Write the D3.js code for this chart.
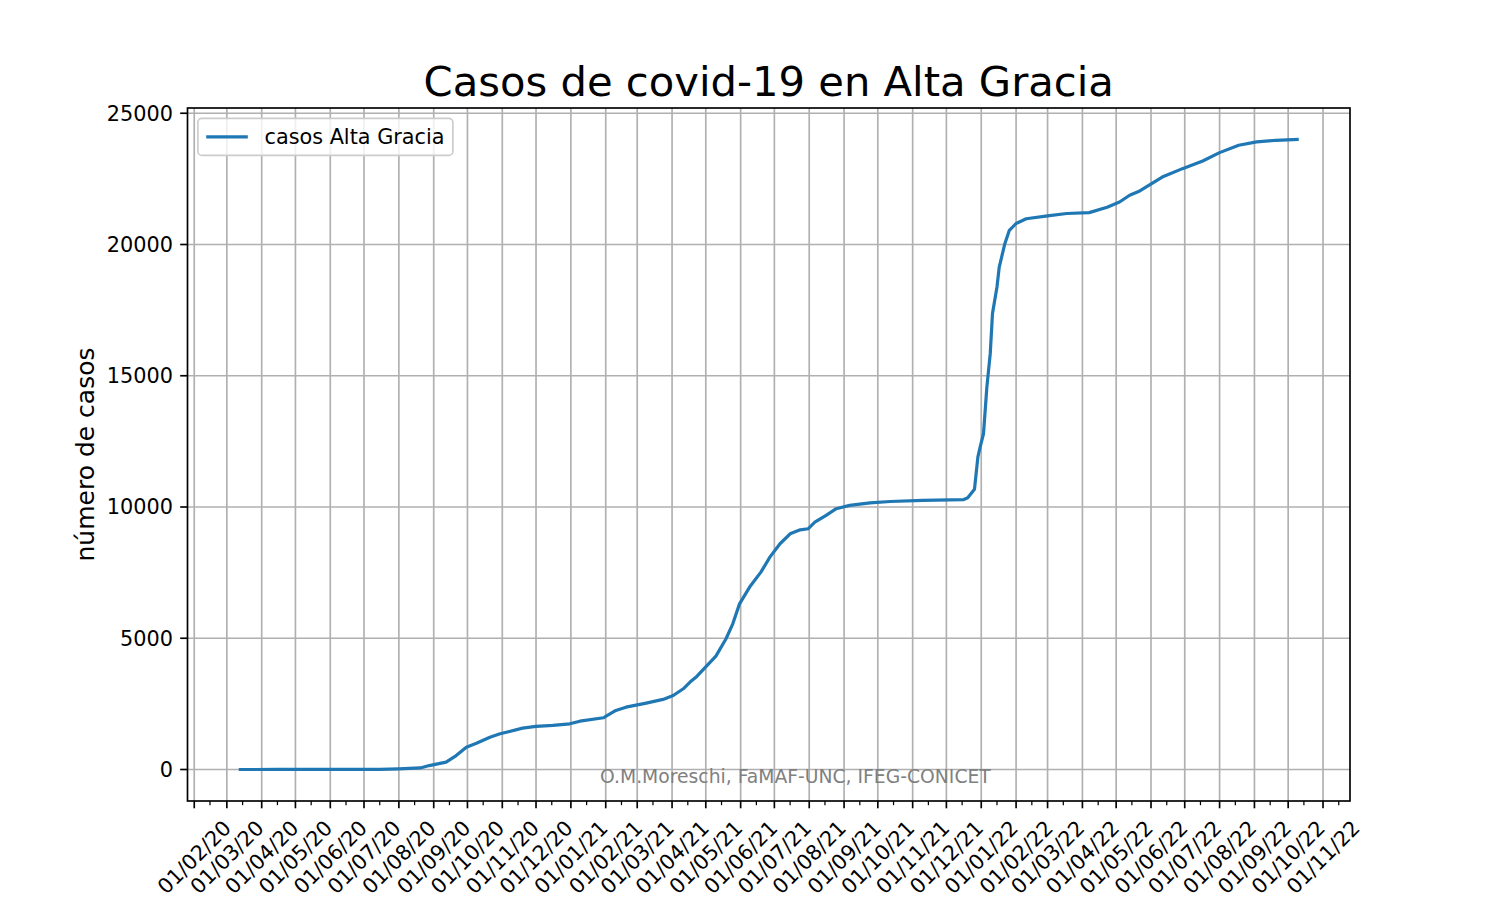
<!DOCTYPE html>
<html>
<head>
<meta charset="utf-8">
<script src="https://cdn.jsdelivr.net/npm/d3@7"></script>
<style>
  html, body { margin: 0; padding: 0; background: #ffffff; }
  svg { display: block; font-family: "DejaVu Sans", sans-serif; }
</style>
</head>
<body>
<svg id="chart" width="1500" height="900"></svg>
<script>
// ---- data ----
const dates = [
  "2020-03-13","2020-04-15","2020-06-01","2020-07-15","2020-08-01","2020-08-20","2020-08-28",
  "2020-09-12","2020-09-21","2020-09-30","2020-10-09","2020-10-21","2020-10-30","2020-11-19",
  "2020-12-01","2020-12-16","2020-12-31","2021-01-09","2021-01-30","2021-02-01","2021-02-10",
  "2021-02-19","2021-03-09","2021-03-24","2021-04-02","2021-04-11","2021-04-17","2021-04-23",
  "2021-05-02","2021-05-10","2021-05-19","2021-05-25","2021-05-31","2021-06-09","2021-06-19",
  "2021-06-27","2021-07-06","2021-07-15","2021-07-24","2021-07-31","2021-08-06","2021-08-16",
  "2021-08-25","2021-09-06","2021-09-24","2021-10-12","2021-11-10","2021-12-16","2021-12-20",
  "2021-12-26","2021-12-29","2021-12-31","2022-01-03","2022-01-06","2022-01-09","2022-01-11",
  "2022-01-15","2022-01-17","2022-01-22","2022-01-26","2022-02-01","2022-02-10","2022-03-01",
  "2022-03-18","2022-04-07","2022-04-23","2022-05-04","2022-05-13","2022-05-22","2022-06-11",
  "2022-06-29","2022-07-17","2022-08-01","2022-08-18","2022-09-03","2022-09-20","2022-10-09"
];
const casos = [
  0, 2, 3, 8, 25, 60, 150,
  280, 530, 850, 1000, 1230, 1360, 1575,
  1640, 1680, 1740, 1840, 1970, 2020, 2250,
  2375, 2530, 2670, 2820, 3075, 3330, 3545,
  3960, 4320, 4980, 5550, 6310, 6950, 7520,
  8090, 8600, 8980, 9130, 9170, 9420, 9680,
  9935, 10060, 10160, 10210, 10250, 10280, 10350,
  10680, 11900, 12280, 12790, 14570, 15840, 17370,
  18380, 19140, 20030, 20540, 20800, 20980, 21090,
  21180, 21215, 21420, 21620, 21875, 22040, 22570,
  22890, 23180, 23500, 23780, 23910, 23970, 24000
];
const yTicks = [0, 5000, 10000, 15000, 20000, 25000];
const titleText = "Casos de covid-19 en Alta Gracia";
const yLabelText = "número de casos";
const legendLabel = "casos Alta Gracia";
const creditText = "O.M.Moreschi, FaMAF-UNC, IFEG-CONICET";

// ---- layout ----
const W = 1500, H = 900;
const L = 187.5, R = 1350, T = 108, B = 801;
const fs = 20.8;           // 10pt at 150 dpi
const major = 7.3, minorLen = 4.2, pad = 7.3;
const color = "#1f77b4";

const parse = d3.timeParse("%Y-%m-%d");
const data = dates.map((d, i) => ({ date: parse(d), v: casos[i] }));

const svg = d3.select("#chart");

// scales with matplotlib-like 5% margins
const xExt = d3.extent(data, d => d.date);
const xSpan = xExt[1] - xExt[0];
const x = d3.scaleTime()
  .domain([new Date(+xExt[0] - 0.05 * xSpan), new Date(+xExt[1] + 0.05 * xSpan)])
  .range([L, R]);
const yExt = d3.extent(data, d => d.v);
const ySpan = yExt[1] - yExt[0];
const y = d3.scaleLinear()
  .domain([yExt[0] - 0.05 * ySpan, yExt[1] + 0.05 * ySpan])
  .range([B, T]);

const xMajor = d3.timeMonth.range(d3.timeMonth.ceil(x.domain()[0]), x.domain()[1]);
const xMinor = d3.timeMonth.range(d3.timeMonth.floor(x.domain()[0]), x.domain()[1])
  .map(m => new Date(m.getFullYear(), m.getMonth(), 15))
  .filter(d => d >= x.domain()[0] && d <= x.domain()[1]);
const fmt = d3.timeFormat("%d/%m/%y");

// grid
const grid = svg.append("g");
grid.selectAll("line.gx").data(xMajor).enter().append("line")
  .attr("x1", d => x(d)).attr("x2", d => x(d)).attr("y1", T).attr("y2", B)
  .attr("stroke", "#b0b0b0").attr("stroke-width", 1.67);
grid.selectAll("line.gy").data(yTicks).enter().append("line")
  .attr("x1", L).attr("x2", R).attr("y1", d => y(d)).attr("y2", d => y(d))
  .attr("stroke", "#b0b0b0").attr("stroke-width", 1.67);

// line
svg.append("clipPath").attr("id", "clip").append("rect")
  .attr("x", L).attr("y", T).attr("width", R - L).attr("height", B - T);
svg.append("path").datum(data)
  .attr("clip-path", "url(#clip)")
  .attr("fill", "none").attr("stroke", color).attr("stroke-width", 3.2)
  .attr("stroke-linejoin", "round").attr("stroke-linecap", "square")
  .attr("d", d3.line().x(d => x(d.date)).y(d => y(d.v)));

// spines
svg.append("rect").attr("x", L).attr("y", T).attr("width", R - L).attr("height", B - T)
  .attr("fill", "none").attr("stroke", "#000").attr("stroke-width", 1.67);

// x ticks
const xt = svg.append("g");
xt.selectAll("line.maj").data(xMajor).enter().append("line")
  .attr("x1", d => x(d)).attr("x2", d => x(d)).attr("y1", B).attr("y2", B + major)
  .attr("stroke", "#000").attr("stroke-width", 1.67);
xt.selectAll("line.min").data(xMinor).enter().append("line")
  .attr("x1", d => x(d)).attr("x2", d => x(d)).attr("y1", B).attr("y2", B + minorLen)
  .attr("stroke", "#000").attr("stroke-width", 1.25);
xt.selectAll("text").data(xMajor).enter().append("text")
  .attr("font-size", fs).attr("fill", "#000").attr("text-anchor", "middle").attr("dy", "0.35em")
  .text(d => fmt(d))
  .each(function(d) {
    const w = this.getComputedTextLength();
    const h = 1.164 * fs;
    const bh = (w + h) * Math.SQRT1_2;
    const cx = x(d), cy = B + major + pad + bh / 2;
    d3.select(this).attr("transform", `translate(${cx},${cy}) rotate(-45)`);
  });

// y ticks
const yt = svg.append("g");
yt.selectAll("line").data(yTicks).enter().append("line")
  .attr("x1", L - major).attr("x2", L).attr("y1", d => y(d)).attr("y2", d => y(d))
  .attr("stroke", "#000").attr("stroke-width", 1.67);
yt.selectAll("text").data(yTicks).enter().append("text")
  .attr("x", L - major - pad).attr("y", d => y(d)).attr("dy", "0.35em")
  .attr("text-anchor", "end").attr("font-size", fs).attr("fill", "#000")
  .text(d => String(d));

// y label
svg.append("text")
  .attr("transform", `translate(85,${(T + B) / 2}) rotate(-90)`)
  .attr("text-anchor", "middle").attr("dy", "0.35em")
  .attr("font-size", 25).attr("fill", "#000").text(yLabelText);

// title
svg.append("text").attr("x", (L + R) / 2).attr("y", 95.5)
  .attr("text-anchor", "middle").attr("font-size", 41.7).attr("fill", "#000")
  .text(titleText);

// legend
const lg = svg.append("g");
const lbox = lg.append("rect");
const bx = L + 0.5 * fs, by = T + 0.5 * fs;
const hx0 = bx + 0.4 * fs, hx1 = hx0 + 2 * fs;
const ltxt = lg.append("text").attr("x", hx1 + 0.8 * fs).attr("y", by + 18.5).attr("dy", "0.35em")
  .attr("font-size", fs).attr("fill", "#000").text(legendLabel);
const tw = ltxt.node().getComputedTextLength();
lbox.attr("x", bx).attr("y", by).attr("width", hx1 + 0.8 * fs + tw + 0.4 * fs - bx).attr("height", 37)
  .attr("rx", 4).attr("ry", 4)
  .attr("fill", "#ffffff").attr("fill-opacity", 0.8)
  .attr("stroke", "#cccccc").attr("stroke-width", 1.67);
lg.append("line").attr("x1", hx0).attr("x2", hx1).attr("y1", by + 18.5).attr("y2", by + 18.5)
  .attr("stroke", color).attr("stroke-width", 3.2);

// credit
svg.append("text").attr("x", 0.4 * W).attr("y", H - 0.13 * H)
  .attr("font-size", 18.75).attr("fill", "#808080").text(creditText);
</script>
</body>
</html>
